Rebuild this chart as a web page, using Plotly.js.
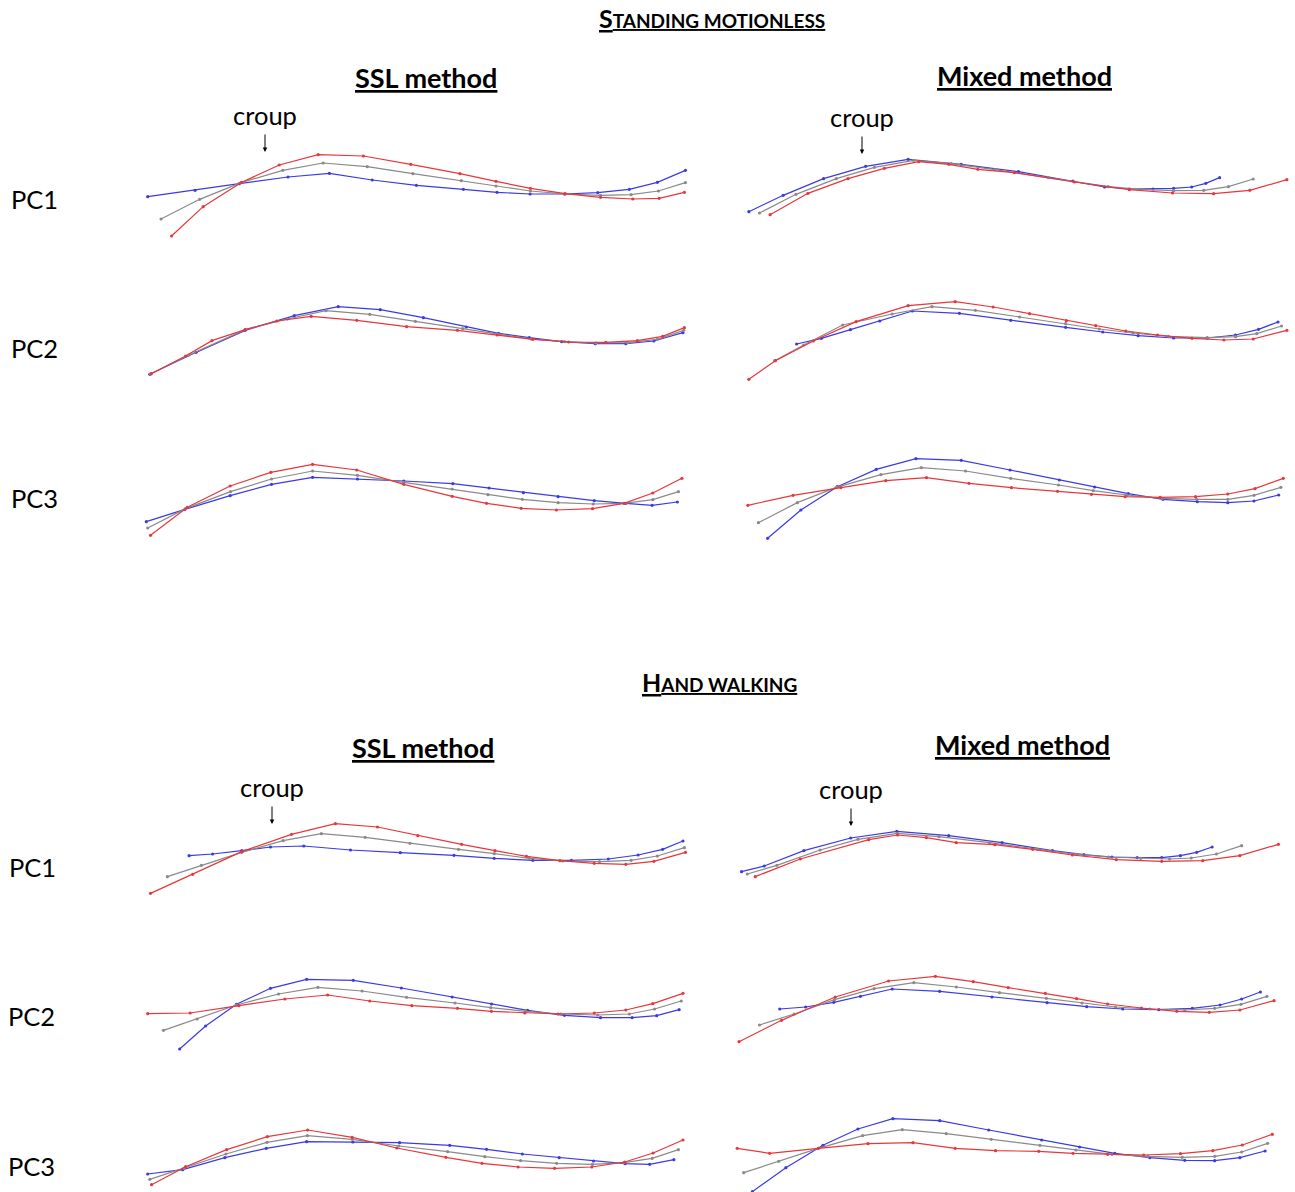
<!DOCTYPE html>
<html><head><meta charset="utf-8">
<script src="https://cdn.plot.ly/plotly-3.0.1.min.js"></script>
<style>html,body{margin:0;padding:0;background:#fff}#chart{width:1295px;height:1192px}</style>
</head><body><div id="chart"></div>
<script>
// ---------------- DATA (x along the spine, y = vertical offset, down-positive) -------------
// Standing motionless - SSL method
const SM_SSL_PC1_RED  = [[90,288],[180,200],[290,127],[397,75],[508,44],[637,48],[772,73],[912,101],[1015,124],[1113,145],[1212,161],[1313,172],[1405,177],[1480,175],[1552,157]];
const SM_SSL_PC1_GRAY = [[60,237],[170,178],[288,128],[407,91],[522,69],[648,80],[778,101],[916,122],[1015,138],[1113,153],[1212,162],[1313,166],[1400,164],[1478,153],[1555,128]];
const SM_SSL_PC1_BLUE = [[22,170],[157,151],[283,131],[422,111],[540,100],[662,120],[788,136],[922,148],[1018,157],[1112,162],[1210,162],[1305,158],[1395,148],[1475,127],[1555,91]];
const SM_SSL_PC2_RED  = [[32,236],[130,183],[205,137],[300,104],[390,78],[488,64],[618,76],[760,95],[905,106],[1018,120],[1120,133],[1222,141],[1328,142],[1418,137],[1490,124],[1552,98]];
const SM_SSL_PC2_GRAY = [[30,237],[140,180],[300,104],[420,72],[530,47],[655,58],[785,79],[920,101],[1020,117],[1115,132],[1210,140],[1300,144],[1390,143],[1475,133],[1550,106]];
const SM_SSL_PC2_BLUE = [[28,238],[160,172],[300,106],[440,62],[565,35],[685,44],[808,68],[930,96],[1022,115],[1110,128],[1202,140],[1298,146],[1385,146],[1465,138],[1548,113]];
const SM_SSL_PC3_RED  = [[30,256],[135,172],[257,108],[373,67],[492,43],[618,60],[752,103],[890,139],[988,160],[1087,175],[1187,180],[1290,176],[1380,160],[1462,129],[1545,85]];
const SM_SSL_PC3_GRAY = [[22,234],[130,176],[258,125],[375,87],[492,63],[620,76],[752,97],[890,117],[992,134],[1090,148],[1192,158],[1292,162],[1380,160],[1462,149],[1535,125]];
const SM_SSL_PC3_BLUE = [[18,215],[128,178],[257,137],[375,103],[492,82],[620,87],[752,93],[892,101],[995,114],[1093,128],[1192,140],[1295,152],[1385,160],[1460,166],[1532,156]];
// Standing motionless - Mixed method
const SM_MIX_PC1_RED  = [[85,209],[192,145],[305,101],[408,70],[505,50],[590,58],[672,73],[775,83],[945,111],[1100,134],[1222,144],[1338,146],[1440,136],[1545,104]];
const SM_MIX_PC1_GRAY = [[55,204],[158,148],[272,101],[380,67],[490,46],[597,56],[720,74],[870,97],[1040,125],[1130,133],[1225,137],[1310,136],[1380,125],[1450,102]];
const SM_MIX_PC1_BLUE = [[25,200],[122,151],[236,101],[355,64],[475,43],[625,58],[787,80],[940,108],[1030,126],[1100,132],[1167,132],[1225,130],[1276,126],[1316,115],[1355,98]];
const SM_MIX_PC2_RED  = [[25,268],[100,212],[207,153],[328,95],[475,47],[608,35],[715,51],[818,71],[922,92],[1005,107],[1090,123],[1180,135],[1277,145],[1367,150],[1450,147],[1545,121]];
const SM_MIX_PC2_GRAY = [[98,212],[180,165],[290,105],[430,72],[542,50],[665,61],[790,81],[920,101],[1015,117],[1110,129],[1210,139],[1320,143],[1400,140],[1460,131],[1530,108]];
const SM_MIX_PC2_BLUE = [[160,162],[230,145],[312,119],[395,93],[487,63],[620,70],[765,91],[920,112],[1025,126],[1125,137],[1225,144],[1320,144],[1400,135],[1465,118],[1520,96]];
const SM_MIX_PC3_RED  = [[22,166],[150,136],[285,113],[412,92],[527,83],[647,100],[767,113],[897,124],[993,133],[1088,140],[1187,142],[1287,140],[1378,132],[1455,116],[1535,85]];
const SM_MIX_PC3_GRAY = [[52,218],[162,158],[272,112],[398,74],[512,53],[637,63],[765,85],[900,105],[998,122],[1093,135],[1193,145],[1290,148],[1378,148],[1452,136],[1528,112]];
const SM_MIX_PC3_BLUE = [[78,265],[172,180],[275,110],[385,58],[497,26],[625,31],[763,60],[902,90],[1002,111],[1097,131],[1195,148],[1292,155],[1378,158],[1452,153],[1522,135]];
// Hand walking - SSL method
const HW_SSL_PC1_RED  = [[30,250],[150,193],[290,125],[432,73],[557,41],[677,51],[792,77],[917,103],[1012,122],[1102,139],[1197,152],[1295,160],[1385,163],[1465,154],[1555,127]];
const HW_SSL_PC1_GRAY = [[78,200],[175,166],[290,127],[408,92],[517,71],[642,82],[770,100],[908,118],[1010,131],[1110,145],[1205,153],[1310,155],[1400,151],[1475,138],[1552,113]];
const HW_SSL_PC1_BLUE = [[140,137],[207,132],[290,122],[372,111],[467,108],[600,120],[742,128],[895,136],[1010,145],[1120,151],[1230,151],[1335,147],[1420,135],[1490,118],[1548,93]];
const HW_SSL_PC2_RED  = [[22,146],[143,144],[282,122],[413,102],[535,90],[655,108],[775,122],[905,130],[1002,139],[1097,144],[1192,147],[1295,144],[1385,135],[1462,116],[1548,85]];
const HW_SSL_PC2_GRAY = [[67,196],[163,162],[275,120],[395,87],[507,67],[633,78],[760,97],[898,114],[1000,128],[1100,139],[1200,147],[1305,150],[1395,147],[1467,132],[1543,108]];
const HW_SSL_PC2_BLUE = [[113,252],[187,183],[275,118],[372,70],[475,43],[608,46],[745,69],[890,96],[1002,117],[1105,136],[1210,151],[1313,158],[1403,158],[1473,152],[1537,134]];
const HW_SSL_PC3_RED  = [[33,209],[130,155],[247,104],[363,65],[478,45],[605,67],[732,99],[872,127],[975,145],[1078,156],[1182,160],[1288,156],[1382,141],[1463,114],[1548,75]];
const HW_SSL_PC3_GRAY = [[28,193],[125,160],[245,117],[362,82],[477,62],[605,73],[738,93],[877,110],[983,125],[1085,137],[1188,145],[1290,148],[1380,143],[1460,130],[1535,104]];
const HW_SSL_PC3_BLUE = [[22,177],[122,164],[242,128],[360,100],[475,80],[607,81],[740,83],[883,91],[988,103],[1090,117],[1195,128],[1293,138],[1383,146],[1453,148],[1522,134]];
// Hand walking - Mixed method
const HW_MIX_PC1_RED  = [[70,170],[195,117],[385,59],[465,45],[545,53],[628,68],[735,74],[840,88],[950,105],[1072,119],[1198,124],[1312,122],[1415,107],[1522,73]];
const HW_MIX_PC1_GRAY = [[48,162],[130,136],[250,90],[355,58],[465,40],[580,50],[720,68],[855,88],[960,103],[1050,111],[1140,115],[1220,117],[1280,114],[1350,102],[1420,77]];
const HW_MIX_PC1_BLUE = [[32,155],[95,138],[205,92],[335,54],[463,34],[607,47],[755,68],[895,92],[982,104],[1060,111],[1130,113],[1198,113],[1250,107],[1295,97],[1338,81]];
const HW_MIX_PC2_RED  = [[25,230],[143,166],[292,96],[440,48],[570,34],[675,50],[772,68],[875,85],[962,101],[1048,117],[1142,129],[1240,139],[1330,142],[1415,135],[1510,107]];
const HW_MIX_PC2_GRAY = [[82,180],[178,147],[290,104],[400,71],[510,53],[628,66],[748,83],[878,100],[977,114],[1070,126],[1165,132],[1262,135],[1345,130],[1418,118],[1490,94]];
const HW_MIX_PC2_BLUE = [[138,132],[210,126],[288,112],[362,94],[450,72],[582,79],[727,96],[880,113],[990,125],[1090,132],[1190,134],[1283,130],[1360,120],[1420,102],[1472,81]];
const HW_MIX_PC3_RED  = [[20,130],[110,145],[245,130],[383,116],[508,113],[625,130],[737,137],[857,139],[952,145],[1048,148],[1148,150],[1250,146],[1340,137],[1422,120],[1505,88]];
const HW_MIX_PC3_GRAY = [[38,203],[135,169],[245,130],[368,92],[478,74],[600,86],[725,103],[860,121],[960,135],[1060,148],[1160,154],[1255,157],[1345,154],[1420,141],[1492,115]];
const HW_MIX_PC3_BLUE = [[62,260],[155,188],[258,121],[355,72],[452,41],[582,47],[718,75],[865,105],[970,126],[1068,145],[1165,158],[1262,166],[1345,167],[1415,158],[1485,138]];

const SECTION_TITLES = ['Standing motionless', 'Hand walking'];
const METHOD_TITLES = ['SSL method', 'Mixed method'];
const PC_LABELS = ['PC1', 'PC2', 'PC3'];
const LANDMARK = 'croup';

// ---------------- LAYOUT -------------
const W = 1295, H = 1192;
const COLORS = {red: '#e8363a', gray: '#8a8a8a', blue: '#3a3ae6'};
const X_UNITS = 1568;   // horizontal reading units spanning each panel box
// panel boxes in page pixels: [left, top, width, height]  (vertical: 3 units per pixel)
const panels = [
  {box: [140, 140, 550, 105], d: [SM_SSL_PC1_BLUE, SM_SSL_PC1_GRAY, SM_SSL_PC1_RED]},
  {box: [740, 145, 555, 80],  d: [SM_MIX_PC1_BLUE, SM_MIX_PC1_GRAY, SM_MIX_PC1_RED]},
  {box: [140, 295, 550, 85],  d: [SM_SSL_PC2_BLUE, SM_SSL_PC2_GRAY, SM_SSL_PC2_RED]},
  {box: [740, 290, 555, 95],  d: [SM_MIX_PC2_BLUE, SM_MIX_PC2_GRAY, SM_MIX_PC2_RED]},
  {box: [140, 450, 550, 95],  d: [SM_SSL_PC3_BLUE, SM_SSL_PC3_GRAY, SM_SSL_PC3_RED]},
  {box: [740, 450, 555, 95],  d: [SM_MIX_PC3_BLUE, SM_MIX_PC3_GRAY, SM_MIX_PC3_RED]},
  {box: [140, 810, 550, 90],  d: [HW_SSL_PC1_BLUE, HW_SSL_PC1_GRAY, HW_SSL_PC1_RED]},
  {box: [730, 820, 565, 65],  d: [HW_MIX_PC1_BLUE, HW_MIX_PC1_GRAY, HW_MIX_PC1_RED]},
  {box: [140, 965, 550, 90],  d: [HW_SSL_PC2_BLUE, HW_SSL_PC2_GRAY, HW_SSL_PC2_RED]},
  {box: [730, 965, 565, 85],  d: [HW_MIX_PC2_BLUE, HW_MIX_PC2_GRAY, HW_MIX_PC2_RED]},
  {box: [140, 1115, 550, 77], d: [HW_SSL_PC3_BLUE, HW_SSL_PC3_GRAY, HW_SSL_PC3_RED]},
  {box: [730, 1105, 565, 87], d: [HW_MIX_PC3_BLUE, HW_MIX_PC3_GRAY, HW_MIX_PC3_RED]}
];
const px = x => x / W;
const py = y => 1 - y / H;
const FONT = 'Lato, "Open Sans", sans-serif';

const traces = [];
const layout = {
  width: W, height: H, margin: {l: 0, r: 0, t: 0, b: 0},
  paper_bgcolor: '#fff', plot_bgcolor: 'rgba(0,0,0,0)', showlegend: false,
  font: {family: FONT, color: '#000'},
  annotations: [], shapes: []
};
const colorOrder = ['blue', 'gray', 'red'];
panels.forEach((p, i) => {
  const n = i + 1, sfx = n === 1 ? '' : String(n);
  const [L, T, w, h] = p.box;
  const axBase = {showgrid: false, zeroline: false, showline: false, showticklabels: false, ticks: '', fixedrange: true};
  layout['xaxis' + sfx] = Object.assign({}, axBase, {domain: [px(L), px(L + w)], range: [0, X_UNITS], anchor: 'y' + sfx});
  layout['yaxis' + sfx] = Object.assign({}, axBase, {domain: [py(T + h), py(T)], range: [3 * h, 0], anchor: 'x' + sfx});
  p.d.forEach((series, k) => {
    const c = COLORS[colorOrder[k]];
    traces.push({
      type: 'scatter', mode: 'lines+markers',
      x: series.map(q => q[0]), y: series.map(q => q[1]),
      xaxis: 'x' + sfx, yaxis: 'y' + sfx,
      line: {color: c, width: 1.2}, marker: {color: c, size: 3.2},
      hoverinfo: 'skip', cliponaxis: false
    });
  });
});

function ann(text, x, y, size, extra) {
  layout.annotations.push(Object.assign({
    text: text, x: px(x), y: py(y), xref: 'paper', yref: 'paper',
    xanchor: 'center', yanchor: 'middle', showarrow: false,
    font: {size: size, color: '#000', family: FONT}
  }, extra || {}));
}
function smallCaps(s, small) {
  return s.charAt(0).toUpperCase() + '<span style="font-size:' + small + 'px">' + s.slice(1).toUpperCase() + '</span>';
}
// section titles
ann('<u><b>' + smallCaps(SECTION_TITLES[0], 19) + '</b></u>', 712, 18, 25);
ann('<u><b>' + smallCaps(SECTION_TITLES[1], 19) + '</b></u>', 719, 682, 25);
// method titles
ann('<u><b>' + METHOD_TITLES[0] + '</b></u>', 426, 78, 27);
ann('<u><b>' + METHOD_TITLES[1] + '</b></u>', 1024, 76, 27);
ann('<u><b>' + METHOD_TITLES[0] + '</b></u>', 423, 747, 27);
ann('<u><b>' + METHOD_TITLES[1] + '</b></u>', 1022, 744, 27);
// PC labels
[[34, 199], [34, 348], [34, 498], [32, 867], [31, 1016], [31, 1166]].forEach((pos, i) => {
  ann(PC_LABELS[i % 3], pos[0], pos[1], 25.5);
});
// croup labels + arrows
[[265, 115, 265, 152], [862, 117, 862, 154], [272, 787, 272, 824], [851, 789, 851, 826]].forEach(c => {
  ann(LANDMARK, c[0], c[1], 25.5);
  layout.annotations.push({
    text: '', x: px(c[2]), y: py(c[3]), xref: 'paper', yref: 'paper',
    showarrow: true, ax: 0, ay: -19, arrowhead: 2, arrowsize: 0.9, arrowwidth: 1, arrowcolor: '#000'
  });
});

Plotly.newPlot('chart', traces, layout, {staticPlot: true, displayModeBar: false});
</script></body></html>
